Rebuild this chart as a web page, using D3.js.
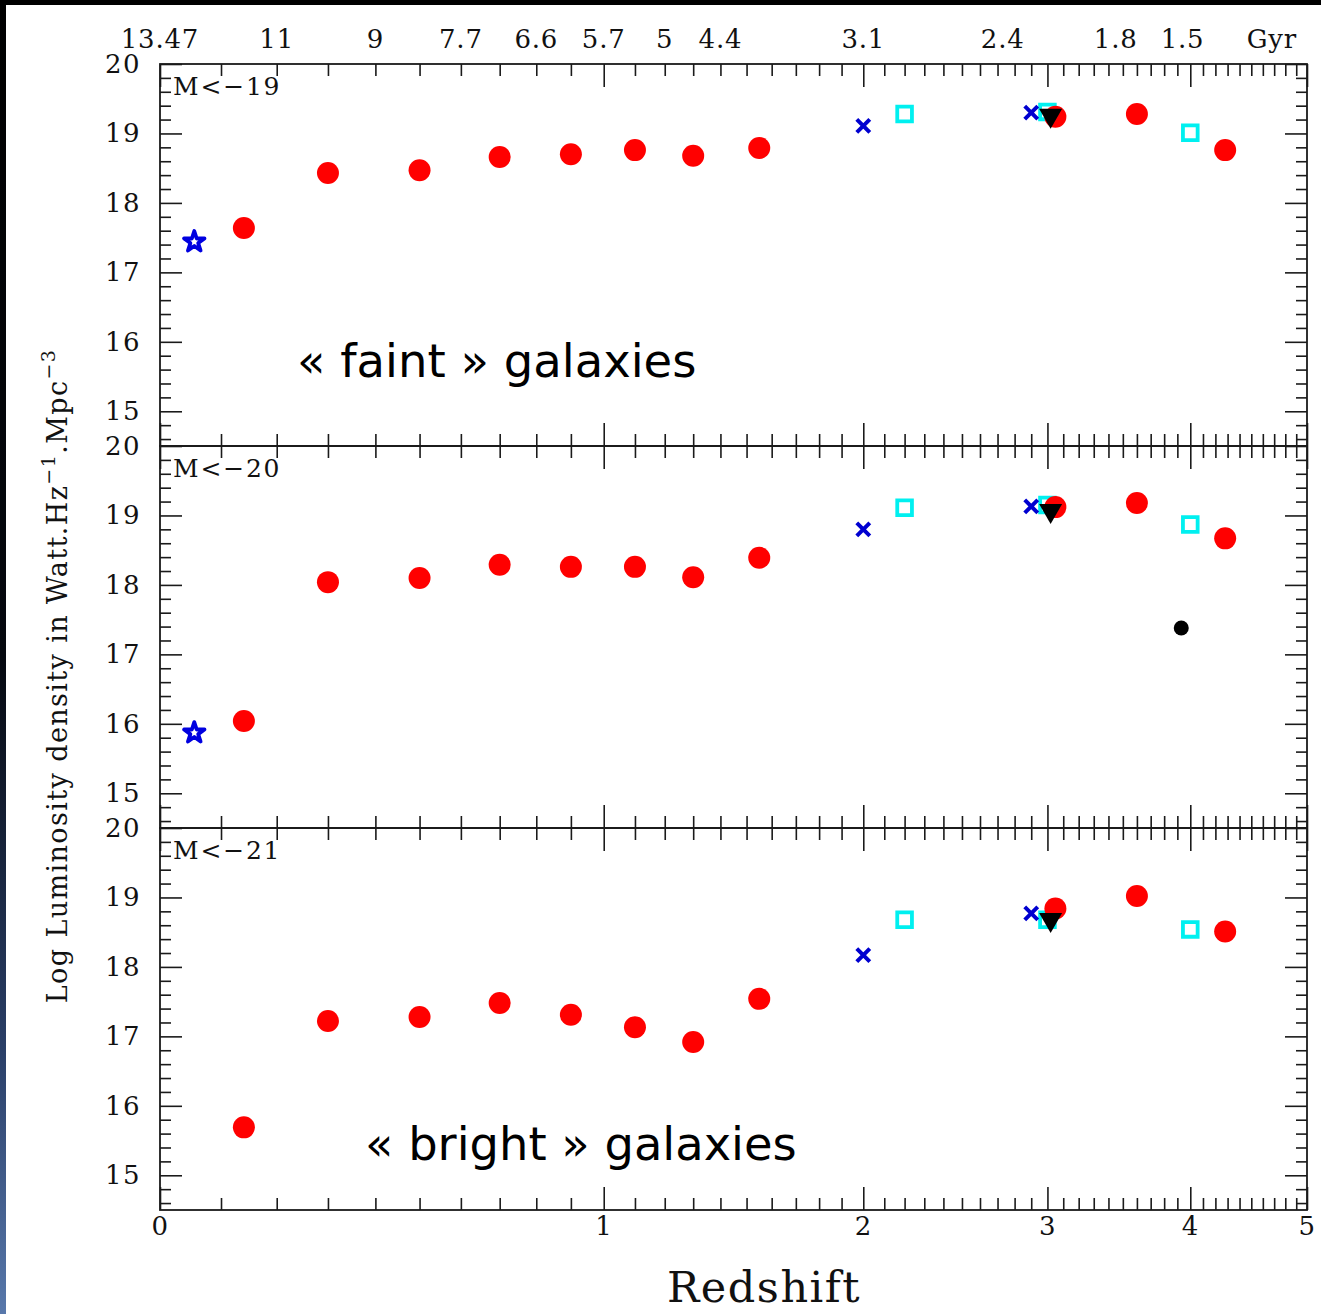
<!DOCTYPE html>
<html><head><meta charset="utf-8">
<script src="https://cdn.jsdelivr.net/npm/d3@7"></script>
<style>body{margin:0;background:#fff;} svg{display:block}</style>
</head><body>
<svg id="chart" width="1321" height="1314"></svg>
<script>
// ---------------- data ----------------
const panelLabels = ["M<\u221219", "M<\u221220", "M<\u221221"];
const redZ   = [0.14, 0.3, 0.5, 0.7, 0.9, 1.1, 1.3, 1.55, 3.05, 3.6, 4.28];
const redY19 = [17.64, 18.43, 18.47, 18.66, 18.70, 18.76, 18.68, 18.79, 19.24, 19.28, 18.76];
const redY20 = [16.04, 18.04, 18.10, 18.29, 18.26, 18.26, 18.11, 18.39, 19.12, 19.18, 18.67];
const redY21 = [15.69, 17.22, 17.28, 17.48, 17.31, 17.13, 16.92, 17.54, 18.84, 19.02, 18.51];
const crossZ   = [2.0, 2.9];
const crossY19 = [19.11, 19.30];
const crossY20 = [18.80, 19.13];
const crossY21 = [18.17, 18.77];
const squareZ   = [2.2, 3.0, 4.0];
const squareY19 = [19.28, 19.31, 19.01];
const squareY20 = [19.11, 19.15, 18.87];
const squareY21 = [18.68, 18.68, 18.54];
const triZ   = [3.02];
const triY19 = [19.26];
const triY20 = [19.07];
const triY21 = [18.68];
const starZ   = [0.055];
const starY19 = [17.44];
const starY20 = [15.87];
const starY21 = [];
const dotZ   = [3.93];
const dotY19 = [];
const dotY20 = [17.38];
const dotY21 = [];
const yTickValues = [15, 16, 17, 18, 19, 20];
const xTickValues = [0, 1, 2, 3, 4, 5];
const ageLabels = ["13.47", "11", "9", "7.7", "6.6", "5.7", "5", "4.4", "3.1", "2.4", "1.8", "1.5", "Gyr"];
const ageZ      = [0, 0.2, 0.4, 0.6, 0.8, 1.0, 1.2, 1.4, 2.0, 2.73, 3.45, 3.94, 4.68];
const yLabelMain = "Log Luminosity density in Watt.Hz";
const xLabel = "Redshift";
const faintText = "\u00AB faint \u00BB galaxies";
const brightText = "\u00AB bright \u00BB galaxies";

// ---------------- layout ----------------
const svg = d3.select("#chart");
const W = 1321, H = 1314;
const left = 160, right = 1307;
const panelTops = [64, 446, 828];
const panelH = 382;
const serif = "'DejaVu Serif', serif";

// background edges
const defs = svg.append("defs");
const grad = defs.append("linearGradient").attr("id", "edge").attr("x1", 0).attr("y1", 0).attr("x2", 0).attr("y2", 1);
grad.append("stop").attr("offset", "0").attr("stop-color", "#000");
grad.append("stop").attr("offset", "0.5").attr("stop-color", "#05080f");
grad.append("stop").attr("offset", "0.8").attr("stop-color", "#2a3f68");
grad.append("stop").attr("offset", "1").attr("stop-color", "#5878ab");
svg.append("rect").attr("x", 0).attr("y", 0).attr("width", W).attr("height", H).attr("fill", "#fff");
svg.append("rect").attr("x", 0).attr("y", 0).attr("width", 6).attr("height", H).attr("fill", "url(#edge)");
svg.append("rect").attr("x", 0).attr("y", 0).attr("width", W).attr("height", 5).attr("fill", "#000");

const x = d3.scaleLog().domain([1, 6]).range([left, right]);
const xz = z => x(1 + z);

const minorZ = d3.range(1, 50).filter(i => i % 10 !== 0).map(i => i / 10);
const minorY = d3.range(73, 100).map(i => i / 5).filter(v => Math.abs(v - Math.round(v)) > 1e-6);

const crossSym = { draw(ctx, size) { const r = Math.sqrt(size) / 2; ctx.moveTo(-r, -r); ctx.lineTo(r, r); ctx.moveTo(-r, r); ctx.lineTo(r, -r); } };

const panels = [
  {label: panelLabels[0], red: redY19, cross: crossY19, sq: squareY19, tri: triY19, star: starY19, dot: dotY19},
  {label: panelLabels[1], red: redY20, cross: crossY20, sq: squareY20, tri: triY20, star: starY20, dot: dotY20},
  {label: panelLabels[2], red: redY21, cross: crossY21, sq: squareY21, tri: triY21, star: starY21, dot: dotY21}
];

function styleAxis(g) {
  g.select(".domain").remove();
  g.selectAll("line").attr("stroke", "#1a1a1a").attr("stroke-width", 1.6);
  g.selectAll("text").attr("font-family", serif).attr("font-size", 26).attr("letter-spacing", 1.5).attr("fill", "#111");
}

panels.forEach((p, i) => {
  const top = panelTops[i];
  const y = d3.scaleLinear().domain([14.5, 20]).range([top + panelH, top]);
  const g = svg.append("g");

  g.append("g").attr("transform", `translate(${left},0)`)
    .call(d3.axisLeft(y).tickValues(yTickValues).tickSize(-22).tickPadding(19).tickFormat(d3.format("d")))
    .call(styleAxis);
  g.append("g").attr("transform", `translate(${left},0)`)
    .call(d3.axisLeft(y).tickValues(minorY).tickSize(-11).tickFormat(""))
    .call(styleAxis);
  g.append("g").attr("transform", `translate(${right},0)`)
    .call(d3.axisRight(y).tickValues(yTickValues).tickSize(-22).tickFormat(""))
    .call(styleAxis);
  g.append("g").attr("transform", `translate(${right},0)`)
    .call(d3.axisRight(y).tickValues(minorY).tickSize(-11).tickFormat(""))
    .call(styleAxis);
  g.append("g").attr("transform", `translate(0,${top})`)
    .call(d3.axisTop(x).tickValues(xTickValues.map(v => v + 1)).tickSize(-23).tickFormat(""))
    .call(styleAxis);
  g.append("g").attr("transform", `translate(0,${top})`)
    .call(d3.axisTop(x).tickValues(minorZ.map(v => v + 1)).tickSize(-12).tickFormat(""))
    .call(styleAxis);
  const bot = top + panelH;
  g.append("g").attr("transform", `translate(0,${bot})`)
    .call(d3.axisBottom(x).tickValues(xTickValues.map(v => v + 1)).tickSize(-23).tickPadding(7)
      .tickFormat((d, k) => i === 2 ? String(xTickValues[k]) : ""))
    .call(styleAxis);
  g.append("g").attr("transform", `translate(0,${bot})`)
    .call(d3.axisBottom(x).tickValues(minorZ.map(v => v + 1)).tickSize(-12).tickFormat(""))
    .call(styleAxis);

  g.append("rect").attr("x", left).attr("y", top).attr("width", right - left).attr("height", panelH)
    .attr("fill", "none").attr("stroke", "#1a1a1a").attr("stroke-width", 1.8);

  g.append("text").attr("x", 173).attr("y", top + 31).attr("font-family", serif).attr("font-size", 25)
    .attr("letter-spacing", 1.8).attr("fill", "#111").text(p.label);

  const marks = g.append("g");
  marks.selectAll(".sq").data(squareZ.map((z, k) => [z, p.sq[k]])).join("path")
    .attr("d", d3.symbol().type(d3.symbolSquare).size(216))
    .attr("transform", d => `translate(${xz(d[0])},${y(d[1])})`)
    .attr("fill", "none").attr("stroke", "#00f0f0").attr("stroke-width", 3.8);
  marks.selectAll(".rc").data(redZ.map((z, k) => [z, p.red[k]])).join("path")
    .attr("d", d3.symbol().type(d3.symbolCircle).size(Math.PI * 11 * 11))
    .attr("transform", d => `translate(${xz(d[0])},${y(d[1])})`)
    .attr("fill", "#ff0000");
  marks.selectAll(".cx").data(crossZ.map((z, k) => [z, p.cross[k]])).join("path")
    .attr("d", d3.symbol().type(crossSym).size(169))
    .attr("transform", d => `translate(${xz(d[0])},${y(d[1])})`)
    .attr("fill", "none").attr("stroke", "#0000d0").attr("stroke-width", 4);
  marks.selectAll(".st").data(p.star.map((v, k) => [starZ[k], v])).join("path")
    .attr("d", d3.symbol().type(d3.symbolStar).size(130))
    .attr("transform", d => `translate(${xz(d[0])},${y(d[1])})`)
    .attr("fill", "none").attr("stroke", "#0000e0").attr("stroke-width", 3.8).attr("stroke-linejoin", "round");
  marks.selectAll(".tr").data(triZ.map((z, k) => [z, p.tri[k]])).join("path")
    .attr("d", d3.symbol().type(d3.symbolTriangle).size(230))
    .attr("transform", d => `translate(${xz(d[0])},${y(d[1])}) rotate(180)`)
    .attr("fill", "#000");
  marks.selectAll(".dt").data(p.dot.map((v, k) => [dotZ[k], v])).join("path")
    .attr("d", d3.symbol().type(d3.symbolCircle).size(Math.PI * 7.5 * 7.5))
    .attr("transform", d => `translate(${xz(d[0])},${y(d[1])})`)
    .attr("fill", "#000");
});

// age labels on top
svg.append("g").selectAll("text").data(ageLabels).join("text")
  .attr("x", (d, k) => xz(ageZ[k])).attr("y", 48)
  .attr("text-anchor", "middle").attr("font-family", serif).attr("font-size", 26).attr("letter-spacing", 0.8)
  .attr("fill", "#111").text(d => d);

// y label
const yl = svg.append("text").attr("transform", "translate(67,676) rotate(-90)")
  .attr("text-anchor", "middle").attr("font-family", serif).attr("font-size", 27).attr("letter-spacing", 1.4)
  .attr("fill", "#111");
yl.append("tspan").text(yLabelMain);
yl.append("tspan").attr("dy", -12).attr("font-size", 19).text("\u22121");
yl.append("tspan").attr("dy", 12).text(".Mpc");
yl.append("tspan").attr("dy", -12).attr("font-size", 19).text("\u22123");

// x label
svg.append("text").attr("x", 764).attr("y", 1302).attr("text-anchor", "middle")
  .attr("font-family", serif).attr("font-size", 43).attr("letter-spacing", 1.5).attr("fill", "#111").text(xLabel);

// annotations
svg.append("text").attr("x", 297).attr("y", 377).attr("font-family", "'DejaVu Sans', sans-serif")
  .attr("font-size", 46.5).attr("fill", "#000").text(faintText);
svg.append("text").attr("x", 365).attr("y", 1160).attr("font-family", "'DejaVu Sans', sans-serif")
  .attr("font-size", 46.4).attr("fill", "#000").text(brightText);
</script>
</body></html>
